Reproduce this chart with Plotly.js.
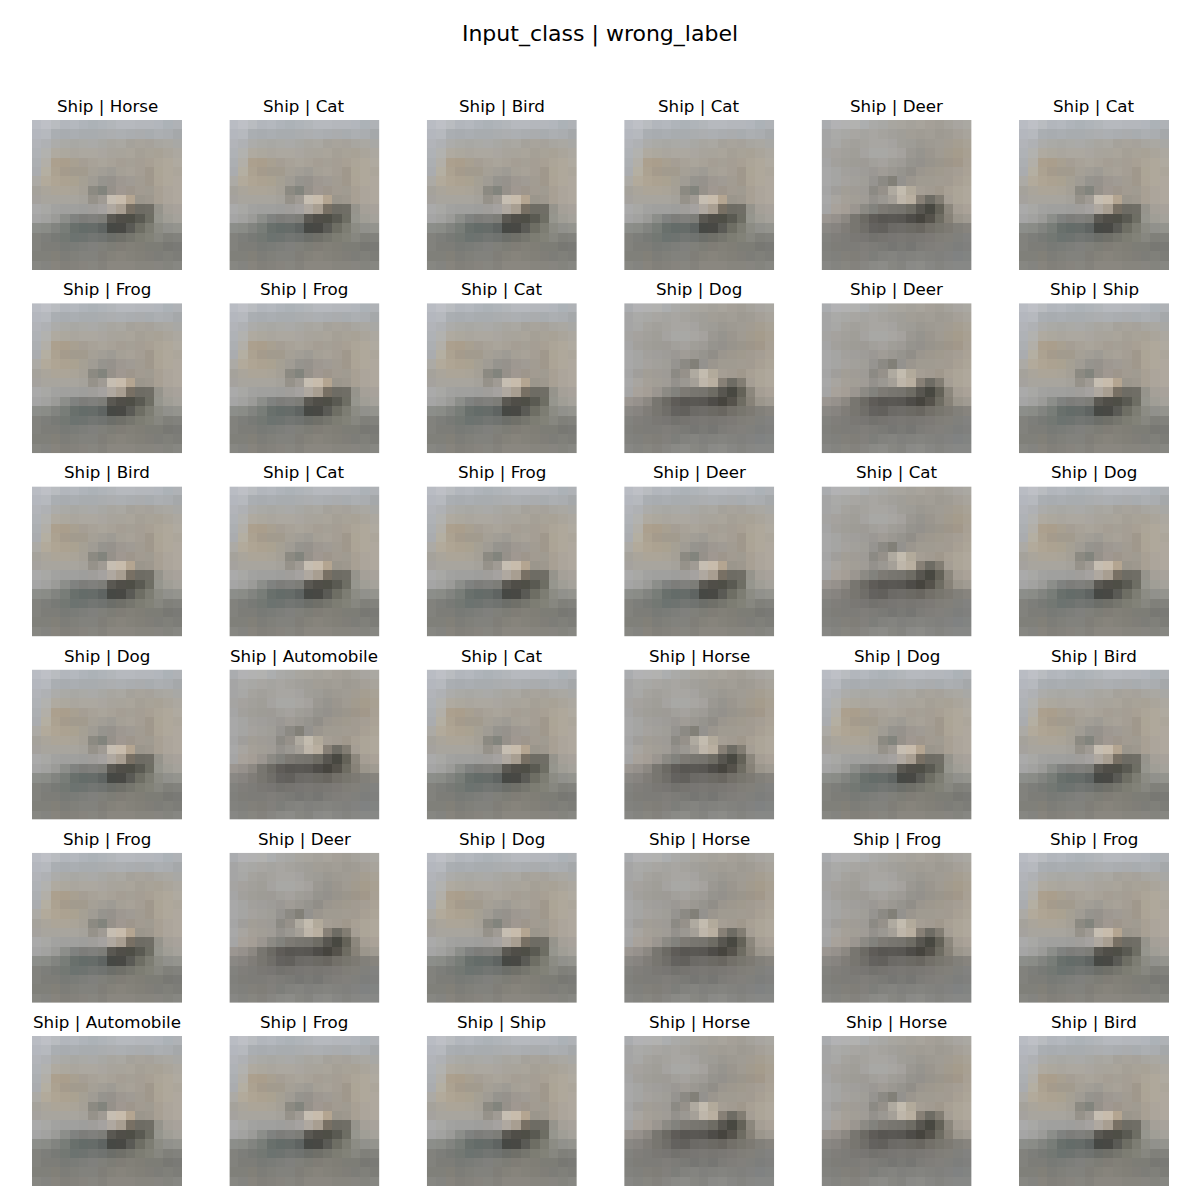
<!DOCTYPE html>
<html>
<head>
<meta charset="utf-8">
<script src="https://cdn.plot.ly/plotly-3.0.1.min.js"></script>
<style>
  html, body { margin: 0; padding: 0; background: #fff; }
  #chart { width: 1200px; height: 1200px; }
</style>
</head>
<body>
<div id="chart"></div>
<script>
// ── Grid labels (row by row) ─────────────────
const INPUT_CLASS = "Ship";
const WRONG_LABELS = [
  "Horse", "Cat", "Bird", "Cat", "Deer", "Cat",
  "Frog", "Frog", "Cat", "Dog", "Deer", "Ship",
  "Bird", "Cat", "Frog", "Deer", "Cat", "Dog",
  "Dog", "Automobile", "Cat", "Horse", "Dog", "Bird",
  "Frog", "Deer", "Dog", "Horse", "Frog", "Frog",
  "Automobile", "Frog", "Ship", "Horse", "Horse", "Bird",
];

// which of the two read-off images each tile looks closest to (0 = A, 1 = B)
const TILE_VARIANT = [
  0, 0, 0, 0, 1, 0,
  0, 0, 0, 1, 1, 0,
  0, 0, 0, 0, 1, 0,
  0, 1, 0, 1, 0, 0,
  0, 1, 0, 1, 1, 0,
  0, 0, 0, 1, 1, 0,
];

const SHIP_PIXELS_A = [
  [[185,188,195],[190,192,198],[185,188,192],[178,182,188],[180,184,190],[175,180,186],[172,178,183],[175,180,185],[178,182,186],[182,185,190],[182,185,190],[180,183,188],[180,183,188],[178,182,188],[172,178,183],[175,178,182]],
  [[180,183,190],[182,185,190],[170,174,178],[168,172,176],[170,174,178],[168,172,175],[168,172,175],[170,173,175],[172,174,176],[172,175,178],[170,173,176],[170,172,174],[168,172,175],[172,175,178],[170,173,176],[165,168,170]],
  [[178,180,185],[175,177,180],[172,172,170],[170,170,166],[168,168,164],[170,170,166],[170,170,168],[168,168,164],[168,166,160],[170,168,162],[165,162,155],[168,164,156],[166,162,155],[168,166,160],[170,168,162],[168,168,165]],
  [[175,178,182],[178,178,175],[175,170,160],[172,168,158],[170,166,158],[172,168,160],[172,168,160],[170,166,160],[168,164,156],[168,164,155],[170,165,155],[165,160,150],[168,163,152],[168,162,150],[170,165,155],[172,168,160]],
  [[172,175,178],[178,175,168],[172,160,142],[170,158,140],[168,160,145],[165,158,148],[168,162,152],[170,165,155],[168,162,152],[165,158,148],[165,160,150],[165,158,148],[168,160,148],[172,165,152],[175,168,155],[175,170,160]],
  [[170,172,175],[180,175,162],[172,162,145],[165,155,140],[162,155,142],[162,155,142],[165,160,150],[162,158,150],[158,155,148],[165,160,150],[168,162,152],[165,158,148],[160,152,140],[172,165,150],[175,168,155],[172,166,155]],
  [[172,170,165],[178,170,155],[175,165,148],[172,162,145],[170,162,145],[165,160,148],[160,156,148],[150,148,142],[150,146,140],[158,152,145],[160,155,148],[162,156,146],[160,152,140],[172,164,150],[175,168,155],[175,168,158]],
  [[165,162,155],[170,165,155],[172,165,152],[172,165,152],[170,164,152],[165,160,150],[140,138,130],[130,132,125],[150,145,138],[160,152,145],[158,150,140],[162,155,145],[160,155,145],[168,160,148],[172,165,155],[175,168,158]],
  [[165,162,158],[168,165,158],[168,165,158],[168,165,158],[168,165,158],[165,162,155],[150,146,138],[160,155,148],[198,190,178],[200,188,172],[180,165,145],[155,150,140],[158,152,142],[168,160,148],[172,165,155],[175,168,158]],
  [[170,170,170],[168,168,165],[162,162,160],[160,160,158],[160,160,158],[158,158,156],[160,158,155],[165,162,160],[175,168,160],[168,158,145],[120,112,100],[110,108,100],[112,110,102],[150,148,140],[165,160,152],[168,162,155]],
  [[165,165,165],[162,162,160],[155,155,152],[140,142,138],[128,130,128],[125,125,122],[128,128,125],[125,125,120],[90,88,82],[80,78,72],[78,78,70],[90,90,82],[110,110,100],[150,150,142],[160,158,150],[165,162,155]],
  [[140,142,138],[138,140,135],[130,132,128],[120,125,120],[105,112,108],[100,108,105],[102,108,105],[95,100,98],[70,72,68],[72,72,68],[90,90,85],[110,110,100],[125,125,115],[140,140,132],[145,145,140],[148,148,142]],
  [[130,130,125],[125,126,122],[120,122,118],[115,120,115],[108,115,112],[110,115,112],[115,118,115],[112,115,112],[108,110,105],[112,112,105],[118,118,110],[125,125,115],[130,130,120],[135,135,128],[128,128,122],[130,130,125]],
  [[130,130,125],[125,125,120],[125,125,120],[120,122,118],[122,124,120],[125,126,122],[128,128,125],[128,128,122],[125,125,118],[128,125,118],[130,128,120],[128,126,118],[125,125,118],[125,125,118],[120,120,115],[122,122,118]],
  [[128,128,122],[128,128,122],[130,128,120],[125,125,120],[128,128,122],[130,130,125],[130,130,125],[128,126,120],[132,130,122],[135,132,124],[132,130,122],[130,128,120],[128,126,120],[125,125,120],[128,128,122],[125,125,120]],
  [[135,135,130],[132,132,128],[135,132,125],[130,128,122],[132,130,124],[135,132,126],[135,134,128],[132,130,124],[138,135,128],[138,135,128],[138,135,128],[135,133,126],[135,133,126],[135,133,128],[132,132,126],[135,135,130]],
];

const SHIP_PIXELS_B = [
  [[170,172,175],[178,178,180],[178,178,178],[178,178,176],[172,174,175],[170,170,168],[168,168,165],[168,166,160],[168,165,158],[165,162,155],[168,164,156],[165,160,152],[162,158,150],[165,162,155],[168,165,160],[170,168,162]],
  [[165,165,165],[170,170,168],[168,168,165],[168,166,162],[165,164,160],[168,166,162],[165,163,158],[162,160,155],[160,158,152],[162,158,150],[160,156,148],[162,158,150],[158,154,146],[160,156,148],[165,160,152],[168,164,156]],
  [[165,165,165],[168,168,166],[165,163,158],[162,160,155],[165,163,158],[168,166,162],[168,166,162],[165,163,160],[160,158,152],[158,156,150],[155,152,145],[158,154,146],[160,156,148],[162,156,146],[165,158,145],[168,162,150]],
  [[165,164,162],[165,162,158],[162,160,155],[160,158,152],[165,163,160],[168,168,165],[168,168,165],[168,166,162],[165,162,158],[155,152,146],[150,148,142],[155,150,142],[160,155,146],[162,155,142],[165,156,140],[168,160,146]],
  [[165,165,165],[162,160,156],[160,158,152],[158,156,150],[158,155,150],[162,160,155],[165,162,158],[160,158,152],[158,155,150],[150,148,142],[148,145,140],[152,148,140],[155,150,140],[158,150,138],[162,152,138],[168,160,148]],
  [[168,168,168],[165,165,163],[162,160,156],[160,158,155],[158,156,152],[155,152,148],[160,156,150],[155,152,146],[150,148,142],[145,142,136],[155,150,142],[158,152,142],[160,154,142],[162,155,145],[165,158,148],[170,162,150]],
  [[168,168,168],[165,165,163],[165,162,158],[162,160,155],[160,158,152],[150,148,144],[140,138,132],[130,128,120],[148,146,142],[155,150,142],[160,155,145],[160,155,145],[162,156,146],[162,155,145],[168,160,148],[172,165,152]],
  [[165,165,165],[160,158,155],[162,158,150],[160,156,150],[158,155,150],[140,138,132],[150,145,138],[175,170,160],[195,188,175],[178,170,155],[165,158,148],[162,155,145],[160,152,140],[168,160,148],[172,165,152],[175,168,156]],
  [[168,168,168],[168,165,160],[165,160,152],[162,158,150],[160,156,150],[148,145,140],[155,152,146],[165,160,152],[190,182,170],[185,175,160],[135,128,118],[110,108,100],[130,125,115],[165,158,148],[172,165,152],[175,168,156]],
  [[165,165,165],[168,162,155],[165,158,150],[155,150,144],[140,138,132],[130,130,125],[125,122,116],[120,118,112],[118,116,110],[110,108,100],[88,86,80],[72,72,65],[100,98,88],[140,135,125],[165,158,148],[170,162,152]],
  [[155,150,145],[150,145,140],[140,136,130],[120,118,112],[108,106,100],[95,92,88],[88,86,82],[90,88,84],[88,86,82],[78,76,72],[70,68,62],[85,82,75],[110,108,98],[135,130,120],[155,150,140],[160,155,146]],
  [[138,136,132],[135,132,128],[128,125,120],[120,118,112],[112,110,105],[100,98,95],[98,96,92],[108,106,102],[110,108,104],[108,106,100],[105,102,96],[115,112,105],[120,118,110],[125,122,115],[130,128,122],[135,132,126]],
  [[130,130,126],[128,126,122],[125,124,120],[122,120,116],[120,118,115],[115,114,110],[118,116,112],[120,118,115],[122,120,116],[120,118,114],[122,120,116],[125,122,118],[128,126,120],[130,128,122],[128,128,124],[130,130,128]],
  [[128,128,124],[126,125,120],[125,124,120],[125,124,120],[128,126,122],[125,124,120],[122,122,118],[118,118,115],[122,122,118],[118,118,115],[125,124,120],[128,126,122],[130,128,124],[128,128,124],[125,126,124],[128,128,126]],
  [[130,130,126],[128,128,124],[130,128,122],[128,126,120],[130,128,124],[125,126,122],[130,130,126],[132,132,128],[128,128,125],[130,130,126],[132,132,128],[130,130,126],[128,128,125],[130,130,128],[128,130,130],[130,132,130]],
  [[135,135,132],[132,132,128],[135,134,128],[132,130,125],[135,134,130],[138,138,134],[140,140,136],[135,135,130],[132,132,128],[138,138,135],[140,140,136],[135,135,132],[132,132,128],[135,135,132],[135,136,134],[135,136,134]],
];

const SHIP_VARIANTS = [SHIP_PIXELS_A, SHIP_PIXELS_B];

// ── Layout geometry (px in a 1200x1200 figure) ──
const FIG = 1200;
const N_COLS = 6;
const N_ROWS = 6;
const TILE = 150;
const COL_LEFT = [32, 229.4, 426.8, 624.2, 821.6, 1019];
const ROW_TOP = [120, 303.2, 486.4, 669.6, 852.8, 1036];

// ── Build one image trace + axis pair per tile ──
const traces = [];
const annotations = [];
const layout = {
  width: FIG,
  height: FIG,
  margin: { l: 0, r: 0, t: 0, b: 0 },
  paper_bgcolor: "#ffffff",
  plot_bgcolor: "#ffffff",
  showlegend: false,
  font: { family: "DejaVu Sans, sans-serif", color: "#000000" },
  title: {
    text: "Input_class | wrong_label",
    font: { family: "DejaVu Sans, sans-serif", size: 22, color: "#000000" },
    x: 0.5,
    xanchor: "center",
    y: 1 - 33 / FIG,
    yanchor: "middle",
    yref: "paper",
  },
};

for (let r = 0; r < N_ROWS; r++) {
  for (let c = 0; c < N_COLS; c++) {
    const i = r * N_COLS + c;
    const n = i + 1;
    const xName = n === 1 ? "xaxis" : "xaxis" + n;
    const yName = n === 1 ? "yaxis" : "yaxis" + n;
    const xRef = n === 1 ? "x" : "x" + n;
    const yRef = n === 1 ? "y" : "y" + n;

    traces.push({
      type: "image",
      z: SHIP_VARIANTS[TILE_VARIANT[i]],
      xaxis: xRef,
      yaxis: yRef,
      hoverinfo: "skip",
    });

    const x0 = COL_LEFT[c] / FIG;
    const x1 = (COL_LEFT[c] + TILE) / FIG;
    const y1 = 1 - ROW_TOP[r] / FIG;
    const y0 = 1 - (ROW_TOP[r] + TILE) / FIG;

    layout[xName] = {
      domain: [x0, x1],
      range: [-0.5, 15.5],
      visible: false,
      fixedrange: true,
    };
    layout[yName] = {
      domain: [y0, y1],
      range: [15.5, -0.5],
      visible: false,
      fixedrange: true,
    };

    annotations.push({
      xref: "paper",
      yref: "paper",
      x: (x0 + x1) / 2,
      y: 1 - (ROW_TOP[r] - 14) / FIG,
      xanchor: "center",
      yanchor: "middle",
      text: INPUT_CLASS + " | " + WRONG_LABELS[i],
      showarrow: false,
      font: { family: "DejaVu Sans, sans-serif", size: 16.7, color: "#000000" },
    });
  }
}

layout.annotations = annotations;

Plotly.newPlot("chart", traces, layout, { staticPlot: true, displayModeBar: false });
</script>
</body>
</html>
